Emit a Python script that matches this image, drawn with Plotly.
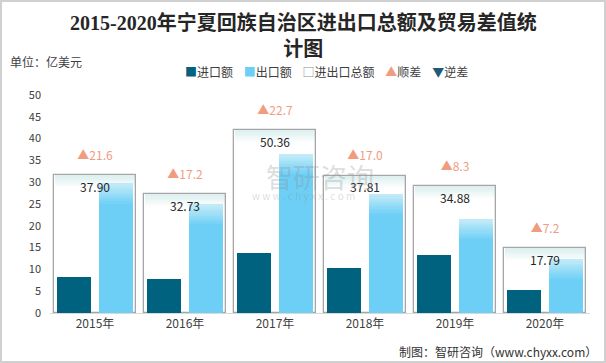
import plotly.graph_objects as go

years = ["2015年", "2016年", "2017年", "2018年", "2019年", "2020年"]
imports = [8.15, 7.77, 13.83, 10.41, 13.29, 5.30]
exports = [29.75, 24.97, 36.53, 27.40, 21.59, 12.50]
totals = [37.90, 32.73, 50.36, 37.81, 34.88, 17.79]
balance = [21.6, 17.2, 22.7, 17.0, 8.3, 7.2]

C_IMP = "#00627F"
C_EXP = "#6DCFF6"
C_BOX = "#A6A6A6"
C_POS = "#F19C7F"
C_NEG = "#1D5B79"
FONT = "Noto Sans CJK SC, Noto Sans, sans-serif"


def mix(c1, c2, t):
    return "rgb(%d,%d,%d)" % tuple(round(a + (b - a) * t) for a, b in zip(c1, c2))


fig = go.Figure()

# ---- layer 1 (yaxis 'y', 0-60, hidden): total boxes with top gradient
n_box, d_box = 10, 0.34
fig.add_trace(go.Bar(
    x=years, y=totals, base=0,
    width=0.9, offset=-0.45, yaxis="y",
    marker=dict(color="white", line=dict(width=0)),
    showlegend=False, hoverinfo="skip"))
for k in range(n_box - 1, -1, -1):
    col = mix((222, 240, 240), (255, 255, 255), k / (n_box - 1))
    fig.add_trace(go.Bar(
        x=years, y=[d_box * 1.3] * len(years),
        base=[t - (k + 1) * d_box - 0.3 * d_box for t in totals],
        width=0.9, offset=-0.45, yaxis="y",
        marker=dict(color=col, line=dict(width=0)),
        showlegend=False, hoverinfo="skip"))
fig.add_trace(go.Bar(
    x=years, y=totals, width=0.912, offset=-0.456, yaxis="y", name="进出口总额",
    marker=dict(color="rgba(0,0,0,0)", line=dict(color=C_BOX, width=1.3)),
    showlegend=False, hoverinfo="skip"))

# ---- layer 2 (yaxis 'y2', 0-50, visible ticks): import / export
fig.add_trace(go.Bar(
    x=years, y=imports, width=0.37, offset=-0.42, name="进口额", yaxis="y2",
    marker=dict(color=C_IMP, line=dict(width=0)), showlegend=False))
fig.add_trace(go.Bar(
    x=years, y=exports, width=0.375, offset=0.047, name="出口额", yaxis="y2",
    marker=dict(color=C_EXP, line=dict(width=0)), showlegend=False))
n_exp, d_exp = 10, 0.5
for k in range(n_exp - 1, -1, -1):
    col = mix((192, 234, 248), (109, 207, 246), k / (n_exp - 1))
    fig.add_trace(go.Bar(
        x=years, y=[d_exp * 1.3] * len(years),
        base=[e - (k + 1) * d_exp - 0.3 * d_exp for e in exports],
        width=0.375, offset=0.047, yaxis="y2",
        marker=dict(color=col, line=dict(width=0)),
        showlegend=False, hoverinfo="skip"))

# ---- layer 3 (yaxis 'y3', 0-60, hidden): labels on top
fig.add_trace(go.Scatter(
    x=years, y=totals, yaxis="y3", mode="markers+text",
    text=["%.2f" % t for t in totals], textposition="bottom center",
    marker=dict(size=11, opacity=0),
    textfont=dict(size=12, color="#262626", family=FONT),
    showlegend=False, hoverinfo="skip"))
fig.add_trace(go.Scatter(
    x=years, y=totals, yaxis="y3", mode="markers+text",
    text=[("▲" if b >= 0 else "▼") + "%.1f" % abs(b) for b in balance],
    textposition="top center",
    marker=dict(size=18, opacity=0),
    textfont=dict(size=12, color=C_POS, family=FONT),
    showlegend=False, hoverinfo="skip"))

L, R, T, B = 50, 16, 95, 50
W, H = 606, 363
pw, ph = W - L - R, H - T - B


def px(x):
    return (x - L) / pw


def py(y):
    return (H - B - y) / ph


legend_txt = (
    '<span style="color:%s">■</span>进口额    '
    '<span style="color:%s">■</span>出口额    '
    '<span style="color:#8c8c8c">□</span>进出口总额    '
    '<span style="color:%s">▲</span>顺差    '
    '<span style="color:%s">▼</span>逆差' % (C_IMP, C_EXP, C_POS, C_NEG)
)

fig.update_layout(
    width=W, height=H,
    margin=dict(l=L, r=R, t=T, b=B),
    paper_bgcolor="white", plot_bgcolor="white",
    barmode="overlay", bargap=0,
    font=dict(family=FONT, color="#404040"),
    xaxis=dict(type="category", categoryorder="array", categoryarray=years,
               showline=True, linecolor="#D9D9D9", linewidth=1,
               showgrid=False, ticks="", tickfont=dict(size=12, color="#404040")),
    yaxis=dict(range=[0, 60], visible=False),
    yaxis2=dict(range=[0, 50], dtick=5, overlaying="y", side="left",
                showgrid=False, zeroline=False, showline=False, ticks="",
                ticklabelstandoff=8, tickfont=dict(size=11, color="#404040")),
    yaxis3=dict(range=[0, 60], overlaying="y", visible=False),
    hovermode=False,
    annotations=[
        dict(text="<b>2015-2020年宁夏回族自治区进出口总额及贸易差值统<br>计图</b>",
             x=px(303), y=py(9), xref="paper", yref="paper", xanchor="center",
             yanchor="top", showarrow=False,
             font=dict(size=20, color="#262626",
                       family="Liberation Serif, DejaVu Serif, Noto Sans CJK SC, serif")),
        dict(text="单位：亿美元", x=px(8), y=py(62), xref="paper", yref="paper",
             xanchor="left", yanchor="middle", showarrow=False,
             font=dict(size=12, color="#404040")),
        dict(text=legend_txt, x=px(326), y=py(71), xref="paper", yref="paper",
             xanchor="center", yanchor="middle", showarrow=False,
             font=dict(size=12, color="#404040")),
        dict(text="制图：智研咨询（www.chyxx.com）", x=px(599), y=py(351),
             xref="paper", yref="paper", xanchor="right", yanchor="middle",
             showarrow=False, font=dict(size=12, color="#333333")),
        dict(text="智研咨询", x=px(320), y=py(176), xref="paper", yref="paper",
             xanchor="center", yanchor="middle", showarrow=False,
             font=dict(size=27, color="rgba(140,140,140,0.3)")),
        dict(text="w w w . c h y x x . c o m", x=px(303), y=py(195),
             xref="paper", yref="paper", xanchor="center", yanchor="middle",
             showarrow=False, font=dict(size=10, color="rgba(140,140,140,0.3)")),
    ],
    shapes=[
        dict(type="rect", xref="paper", yref="paper",
             x0=px(1), x1=px(W - 1), y0=py(H - 1), y1=py(1),
             line=dict(color="#D0D0D0", width=2), fillcolor="rgba(0,0,0,0)",
             layer="below"),
    ],
)

fig.write_html("out.html", config={"displayModeBar": False},
               post_script="document.body.style.margin='0';")
